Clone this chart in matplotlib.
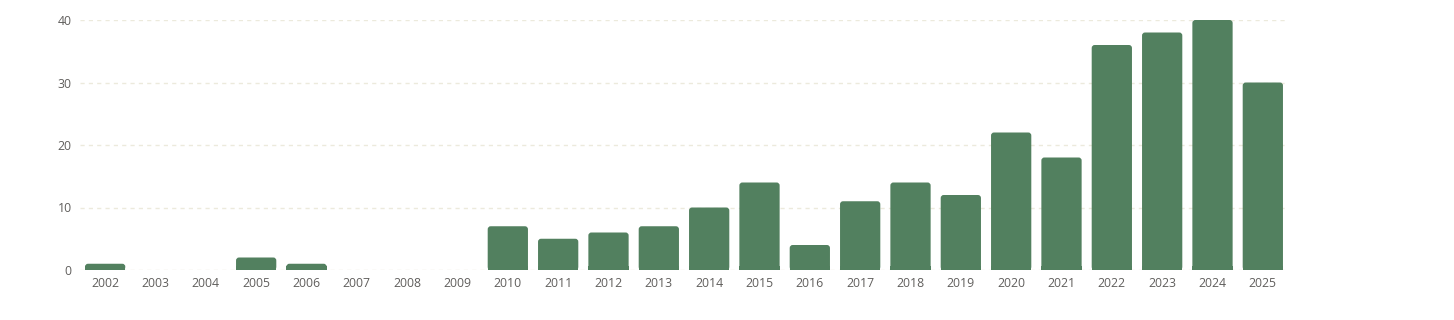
import matplotlib
matplotlib.use("Agg")
import matplotlib.pyplot as plt
from matplotlib.patches import FancyBboxPatch

years = [str(y) for y in range(2002, 2026)]
counts = [1, 0, 0, 2, 1, 0, 0, 0, 7, 5, 6, 7, 10, 14, 4, 11, 14, 12, 22, 18, 36, 38, 40, 30]
yticks = [0, 10, 20, 30, 40]

plt.rcParams['font.family'] = ['Open Sans', 'DejaVu Sans']

W, H = 1454, 320
fig = plt.figure(figsize=(W / 100, H / 100), dpi=100)
left, right, top, bottom = 80, 1288, 20, 270
ax = fig.add_axes([left / W, 1 - bottom / H, (right - left) / W, (bottom - top) / H])

color = '#52805F'
x = list(range(len(years)))
bars = ax.bar(x, counts, width=0.8, color=color, alpha=0)
ax.set_xlim(-0.5, len(years) - 0.5)
ax.set_ylim(0, 40)

px_x = (right - left) / len(years)
px_y = (bottom - top) / 40
aspect = (1 / px_y) / (1 / px_x)
r = 3 / px_x
for b in bars:
    h = b.get_height()
    if h <= 0:
        continue
    p = FancyBboxPatch((b.get_x(), 0), b.get_width(), h,
                       boxstyle=f"round,pad=0,rounding_size={r}",
                       mutation_aspect=aspect, facecolor=color, edgecolor='none', zorder=3)
    ax.add_patch(p)
    ax.add_patch(plt.Rectangle((b.get_x(), 0), b.get_width(), min(h, 0.6),
                               facecolor=color, edgecolor='none', zorder=3))

ax.set_yticks(yticks)
ax.set_xticks(x)
ax.set_xticklabels(years)
for s in ax.spines.values():
    s.set_visible(False)
ax.tick_params(axis='both', length=0, labelsize=8.8, colors='#605E5C')
ax.tick_params(axis='x', pad=5)
ax.tick_params(axis='y', pad=6)
ax.yaxis.grid(True, color='#ECEADC', linestyle=(0, (3, 3)), linewidth=1, zorder=0)
ax.set_axisbelow(True)

fig.savefig('out.png', dpi=100, facecolor='white')
